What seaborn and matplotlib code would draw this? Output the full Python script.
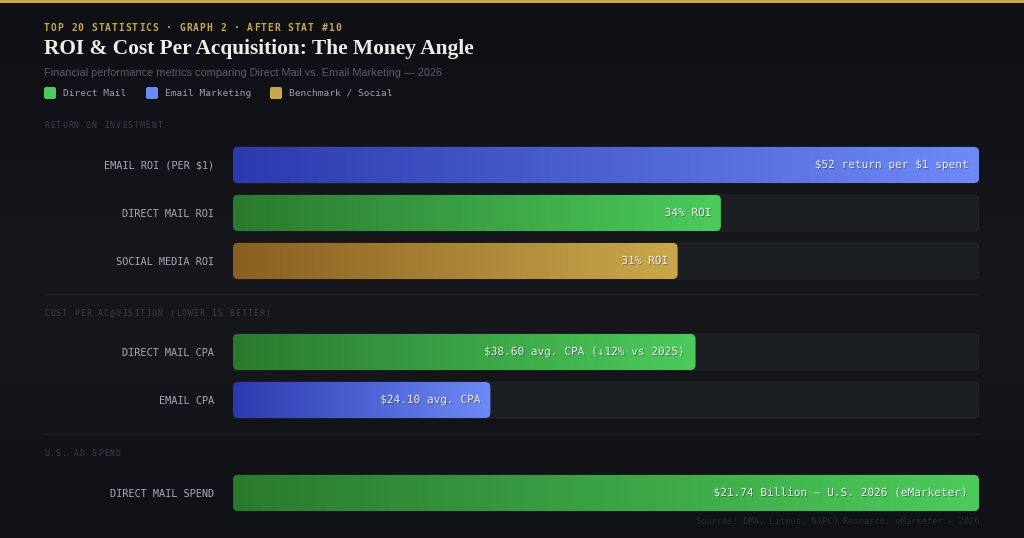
import numpy as np
import pandas as pd
import matplotlib
matplotlib.use("Agg")
import matplotlib.pyplot as plt
import seaborn as sns
from matplotlib.patches import FancyBboxPatch
from matplotlib.colors import LinearSegmentedColormap, to_rgb
import matplotlib.patheffects as pe

# ---------------- data ----------------
roi_categories = ["EMAIL ROI (PER $1)", "DIRECT MAIL ROI", "SOCIAL MEDIA ROI"]
roi_fill_pct = [100, 65.4, 59.6]
roi_labels = ["$52 return per $1 spent", "34% ROI", "31% ROI"]
roi_series = ["email", "mail", "bench"]

cpa_categories = ["DIRECT MAIL CPA", "EMAIL CPA"]
cpa_fill_pct = [62, 34.5]
cpa_labels = ["$38.60 avg. CPA (↓12% vs 2025)", "$24.10 avg. CPA"]
cpa_series = ["mail", "email"]

spend_categories = ["DIRECT MAIL SPEND"]
spend_fill_pct = [100]
spend_labels = ["$21.74 Billion — U.S. 2026 (eMarketer)"]
spend_series = ["mail"]

section_titles = ["RETURN ON INVESTMENT", "COST PER ACQUISITION (LOWER IS BETTER)", "U.S. AD SPEND"]
legend_names = ["Direct Mail", "Email Marketing", "Benchmark / Social"]

eyebrow = "TOP 20 STATISTICS · GRAPH 2 · AFTER STAT #10"
title = "ROI & Cost Per Acquisition: The Money Angle"
subtitle = "Financial performance metrics comparing Direct Mail vs. Email Marketing — 2026"
sources = "Sources: DMA, Litmus, NAPCO Research, eMarketer — 2026"

# ---------------- style ----------------
sns.set_theme(style="dark")
plt.rcParams["text.parse_math"] = False
plt.rcParams["font.family"] = ["DejaVu Sans Mono", "DejaVu Sans"]

GRAD = {
    "email": ("#2b3aae", "#6e8af7"),
    "mail": ("#2a7a2e", "#4ccb5c"),
    "bench": ("#8a5f20", "#c9a84c"),
}
LEGEND_COL = ["#4cc95a", "#6b86f5", "#c9a84c"]
TRACK = "#1b1e22"
TRACK_EDGE = "#22252a"

W, H = 1024, 538
fig = plt.figure(figsize=(W / 100, H / 100), dpi=100)

# background
ax_bg = fig.add_axes([0, 0, 1, 1], zorder=0)
yy = np.linspace(0, 1, 300)
top = np.array(to_rgb("#0e1016"))
mid = np.array(to_rgb("#16181c"))
bot = np.array(to_rgb("#0f1117"))
prof = np.exp(-((yy - 0.55) / 0.3) ** 2)
img = top[None, :] * (1 - prof[:, None]) + mid[None, :] * prof[:, None]
img[yy > 0.55] = (bot[None, :] * (1 - prof[:, None]) + mid[None, :] * prof[:, None])[yy > 0.55]
ax_bg.imshow(img[:, None, :], aspect="auto", extent=(0, W, H, 0))
ax_bg.set_xlim(0, W)
ax_bg.set_ylim(H, 0)
ax_bg.axis("off")

# overlay for text
ax_o = fig.add_axes([0, 0, 1, 1], zorder=5)
ax_o.set_xlim(0, W)
ax_o.set_ylim(H, 0)
ax_o.axis("off")
ax_o.patch.set_alpha(0)

# gold top line
ax_o.fill_between([0, W], 0, 3, color="#c9a84c", lw=0)

TRACK_L, TRACK_R = 233, 979
ROW = 48.0
BAR_H = 36.0


def spaced(x, y, s, size, spacing, color, weight="normal"):
    adv = size / 72 * 100 * 0.602 + spacing
    for i, ch in enumerate(s):
        if ch == " ":
            continue
        ax_o.text(x + i * adv + adv / 2 - spacing / 2, y, ch, ha="center", va="center",
                  fontsize=size, color=color, fontweight=weight,
                  family=["DejaVu Sans Mono", "DejaVu Sans"])


def fit(t, target_w):
    r = fig.canvas.get_renderer()
    w = t.get_window_extent(r).width
    t.set_fontsize(t.get_fontsize() * target_w / w)


def section(cats, fills, labels, series, first_center):
    n = len(cats)
    top_px = first_center - ROW / 2
    bot_px = top_px + n * ROW
    ax = fig.add_axes([TRACK_L / W, 1 - bot_px / H, (TRACK_R - TRACK_L) / W, n * ROW / H], zorder=2)
    df = pd.DataFrame({"cat": cats, "fill": fills})
    sns.barplot(data=df, x="fill", y="cat", orient="h", ax=ax, width=BAR_H / ROW,
                color="#444444", order=cats)
    ax.set_xlim(0, 100)
    ax.set_ylim(n - 0.5, -0.5)
    ax.patch.set_alpha(0)
    for s in ax.spines.values():
        s.set_visible(False)
    ax.set_xlabel("")
    ax.set_ylabel("")
    ax.set_xticks([])
    ax.tick_params(axis="y", length=0, pad=19 * 0.72, labelsize=7.4, labelcolor="#a3a9b4")
    for lab in ax.get_yticklabels():
        lab.set_family(["DejaVu Sans Mono"])
    pxu_x = (TRACK_R - TRACK_L) / 100.0
    asp = (1 / ROW) / (1 / pxu_x)
    rad = 5 / pxu_x
    for p in list(ax.patches):
        x0, y0 = p.get_x(), p.get_y()
        w, h = p.get_width(), p.get_height()
        i = int(round(y0 + h / 2))
        p.set_visible(False)
        track = FancyBboxPatch((0, y0), 100, h, boxstyle=f"round,pad=0,rounding_size={rad}",
                               mutation_aspect=asp, fc=TRACK, ec=TRACK_EDGE, lw=0.8, zorder=1)
        ax.add_patch(track)
        clip = FancyBboxPatch((x0, y0), w, h, boxstyle=f"round,pad=0,rounding_size={rad}",
                              mutation_aspect=asp, fc="none", ec="none", zorder=2)
        ax.add_patch(clip)
        c0, c1 = GRAD[series[i]]
        cmap = LinearSegmentedColormap.from_list("g", [c0, c1])
        im = ax.imshow(np.linspace(0, 1, 256)[None, :], cmap=cmap, aspect="auto",
                       extent=(x0, x0 + w, y0 + h, y0), zorder=2, interpolation="bilinear")
        im.set_clip_path(clip)
        ax.annotate(labels[i], xy=(x0 + w, y0 + h / 2), xytext=(-9, 0), textcoords="offset pixels",
                    ha="right", va="center", fontsize=8, color="#eceef2", zorder=4,
                    family=["DejaVu Sans Mono", "DejaVu Sans"],
                    path_effects=[pe.withSimplePatchShadow(offset=(0.6, -0.6), shadow_rgbFace="black", alpha=0.35)])
    ax.set_xlim(0, 100)
    ax.set_ylim(n - 0.5, -0.5)
    return ax


section(roi_categories, roi_fill_pct, roi_labels, roi_series, 165)
section(cpa_categories, cpa_fill_pct, cpa_labels, cpa_series, 352)
section(spend_categories, spend_fill_pct, spend_labels, spend_series, 493)

# header texts
spaced(44, 28, eyebrow, 6.9, 1.0, "#c9a84c", weight="bold")
t_title = ax_o.text(44, 49, title, ha="left", va="center", fontsize=15.5, fontweight="bold",
                    color="#f1ede4", family=["Liberation Serif"])
fit(t_title, 429)
t_sub = ax_o.text(44, 72.5, subtitle, ha="left", va="center", fontsize=8, color="#565c68",
                  family=["Liberation Sans"])
fit(t_sub, 401)

# legend
leg_x = [44, 146, 270]
for x, name, col in zip(leg_x, legend_names, LEGEND_COL):
    ax_o.add_patch(FancyBboxPatch((x, 87), 12, 12, boxstyle="round,pad=0,rounding_size=2",
                                  fc=col, ec="none"))
    ax_o.text(x + 19, 93.5, name, ha="left", va="center", fontsize=6.8, color="#9aa0aa",
              family=["DejaVu Sans Mono"])

# section headers and separators
for y, s in zip([125, 314, 454], section_titles):
    spaced(44, y, s, 5.9, 1.05, "#3a3e46")
for y in [294, 434]:
    ax_o.plot([44, 979], [y, y], color="#1f2228", lw=1)

t_src = ax_o.text(979, 521.5, sources, ha="right", va="center", fontsize=6.3, color="#262a31",
                  family=["DejaVu Sans Mono"])
fit(t_src, 282)

fig.savefig("out.png", dpi=100, facecolor="#0f1117")
